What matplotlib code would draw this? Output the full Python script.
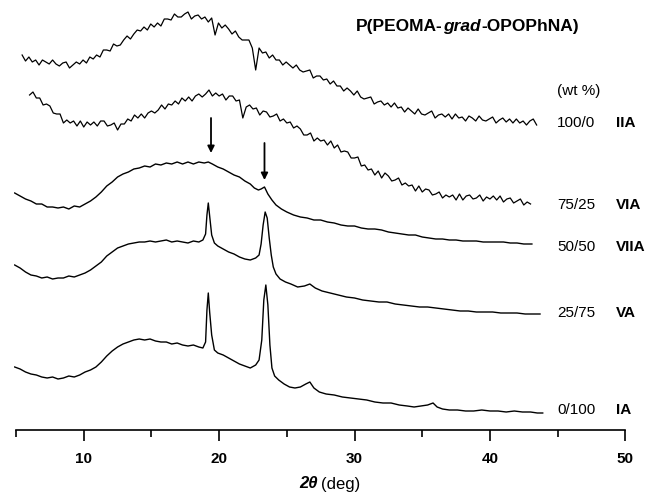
import numpy as np
import matplotlib.pyplot as plt

plt.rcParams['font.family'] = ['Liberation Sans', 'DejaVu Sans']

# XRD patterns, intensity in arbitrary units (curves already offset)
# 100/0 IIA - sampled every 0.25 deg from 5.45 to 43.45
iia_start, iia_end = 5.45, 43.45
iia_y = [445, 439, 443, 438, 440, 435, 440, 438, 436, 440, 436, 434, 437, 438, 432, 435,
         438, 436, 440, 437, 443, 441, 445, 443, 450, 450, 449, 456, 454, 455, 460, 464,
         461, 466, 470, 469, 473, 470, 476, 473, 477, 474, 481, 481, 480, 486, 483, 483,
         486, 488, 481, 484, 485, 481, 483, 478, 482, 465, 477, 472, 475, 471, 466, 469,
         463, 460, 460, 460, 452, 430, 452, 447, 448, 442, 445, 440, 440, 435, 438, 435,
         432, 435, 430, 428, 429, 430, 422, 424, 424, 420, 421, 416, 419, 414, 414, 409,
         412, 409, 405, 409, 403, 401, 402, 403, 396, 398, 399, 395, 397, 393, 397, 392,
         393, 388, 392, 389, 386, 391, 386, 385, 387, 389, 382, 385, 386, 383, 386, 381,
         386, 382, 383, 379, 384, 382, 379, 384, 380, 379, 381, 383, 377, 380, 382, 378,
         381, 377, 381, 377, 379, 375, 379, 381, 375]

# 75/25 VIA - sampled every 0.25 deg from 6.0 to 43.0
via_start, via_end = 6.0, 43.0
via_y = [405, 408, 402, 402, 395, 396, 394, 387, 386, 386, 377, 380, 377, 379, 374, 379,
         373, 378, 375, 378, 374, 379, 379, 374, 375, 377, 370, 376, 376, 381, 379, 385,
         382, 386, 382, 387, 389, 387, 390, 395, 391, 396, 395, 399, 396, 402, 399, 403,
         399, 404, 406, 403, 406, 410, 404, 407, 404, 406, 400, 404, 404, 399, 400, 382,
         393, 395, 391, 392, 385, 389, 388, 383, 384, 386, 379, 381, 377, 378, 372, 374,
         371, 365, 365, 367, 359, 362, 359, 360, 355, 359, 352, 355, 348, 349, 348, 342,
         342, 343, 334, 335, 330, 331, 325, 329, 322, 327, 324, 319, 320, 322, 315, 317,
         314, 315, 309, 314, 308, 311, 310, 305, 306, 308, 302, 305, 303, 305, 300, 306,
         300, 304, 305, 301, 302, 305, 299, 303, 301, 304, 300, 304, 298, 301, 302, 297,
         299, 301, 295, 298, 296]

# 50/50 VIIA
viia_x = [4.9, 5.3, 5.7, 6.1, 6.5, 6.9, 7.3, 7.7, 8.1, 8.5, 8.9, 9.3, 9.7, 10.1, 10.5,
          10.9, 11.3, 11.7, 12.1, 12.5, 12.9, 13.3, 13.7, 14.1, 14.5, 14.9, 15.3, 15.7,
          16.1, 16.5, 16.9, 17.3, 17.7, 18.1, 18.5, 18.9, 19.2, 19.5, 19.9, 20.3, 20.7,
          21.1, 21.5, 21.9, 22.3, 22.6, 22.9, 23.1, 23.35, 23.6, 23.9, 24.2, 24.6, 25.0,
          25.5, 26.0, 26.5, 27.0, 27.5, 28.0, 28.5, 29.0, 29.5, 30.0, 30.5, 31.0, 31.5,
          32.0, 32.5, 33.0, 33.5, 34.0, 34.5, 35.0, 35.5, 36.0, 36.5, 37.0, 37.5, 38.0,
          38.5, 39.0, 39.5, 40.0, 40.5, 41.0, 41.5, 42.0, 42.5, 43.1]
viia_y = [307, 304, 301, 299, 296, 296, 293, 293, 292, 293, 291, 294, 293, 296, 299, 303,
          308, 314, 318, 323, 326, 328, 331, 332, 334, 333, 336, 335, 337, 336, 338, 336,
          338, 336, 338, 337, 338, 336, 333, 331, 328, 325, 323, 319, 316, 312, 310, 311,
          313, 306, 300, 295, 291, 288, 285, 283, 282, 280, 280, 278, 277, 275, 274, 274,
          272, 271, 271, 270, 268, 267, 266, 265, 265, 263, 262, 261, 261, 260, 260, 259,
          259, 259, 258, 258, 258, 258, 257, 257, 256, 256]

# 25/75 VA
va_x = [4.9, 5.3, 5.7, 6.1, 6.5, 6.9, 7.3, 7.7, 8.1, 8.5, 8.9, 9.3, 9.7, 10.1, 10.5,
        10.9, 11.3, 11.7, 12.1, 12.5, 12.9, 13.3, 13.7, 14.1, 14.5, 14.9, 15.3, 15.7,
        16.1, 16.5, 16.9, 17.3, 17.7, 18.1, 18.5, 18.8, 19.0, 19.1, 19.2, 19.3, 19.45,
        19.65, 19.9, 20.3, 20.7, 21.1, 21.5, 21.9, 22.3, 22.7, 22.95, 23.1, 23.25, 23.4,
        23.55, 23.7, 23.85, 24.0, 24.2, 24.5, 24.9, 25.3, 25.8, 26.3, 26.7, 27.1, 27.6,
        28.2, 28.8, 29.4, 30.0, 30.6, 31.2, 31.8, 32.4, 33.0, 33.6, 34.2, 34.8, 35.4,
        36.0, 36.6, 37.2, 37.8, 38.4, 39.0, 39.6, 40.2, 40.8, 41.4, 42.0, 42.6, 43.2, 43.7]
va_y = [235, 232, 228, 225, 224, 222, 223, 221, 222, 222, 224, 223, 225, 227, 230, 234,
        238, 244, 248, 252, 254, 256, 257, 258, 258, 259, 258, 259, 260, 258, 259, 258,
        257, 259, 258, 260, 266, 285, 297, 284, 265, 257, 254, 251, 248, 246, 243, 241,
        240, 242, 245, 256, 275, 288, 282, 262, 245, 233, 226, 221, 218, 216, 213, 214,
        216, 212, 209, 207, 205, 203, 202, 200, 199, 198, 198, 196, 195, 194, 193, 193,
        192, 191, 190, 189, 189, 188, 188, 188, 187, 187, 187, 186, 186, 186]

# 0/100 IA
ia_x = [4.9, 5.3, 5.7, 6.1, 6.5, 6.9, 7.3, 7.7, 8.1, 8.5, 8.9, 9.3, 9.7, 10.1, 10.5,
        10.9, 11.3, 11.7, 12.1, 12.5, 12.9, 13.3, 13.7, 14.1, 14.5, 14.9, 15.3, 15.7,
        16.1, 16.5, 16.9, 17.3, 17.7, 18.1, 18.5, 18.8, 19.0, 19.1, 19.2, 19.3, 19.45,
        19.65, 19.9, 20.3, 20.7, 21.1, 21.5, 21.9, 22.3, 22.7, 22.95, 23.15, 23.3, 23.45,
        23.6, 23.75, 23.9, 24.1, 24.4, 24.8, 25.2, 25.6, 26.0, 26.4, 26.7, 27.0, 27.4,
        27.9, 28.5, 29.1, 29.7, 30.3, 30.9, 31.5, 32.1, 32.7, 33.3, 33.9, 34.4, 34.9,
        35.4, 35.8, 36.1, 36.5, 37.0, 37.6, 38.2, 38.8, 39.4, 40.0, 40.6, 41.2, 41.8,
        42.4, 43.0, 43.5, 43.9]
ia_y = [133, 131, 128, 126, 125, 123, 122, 123, 121, 122, 124, 123, 125, 128, 130, 133,
        138, 144, 149, 153, 156, 158, 160, 161, 160, 161, 159, 158, 158, 156, 157, 155,
        154, 155, 153, 152, 158, 190, 207, 188, 165, 150, 147, 145, 142, 139, 136, 134,
        132, 135, 140, 160, 200, 215, 195, 155, 132, 124, 120, 116, 113, 112, 113, 116,
        118, 112, 108, 106, 105, 103, 102, 101, 100, 98, 97, 97, 95, 94, 93, 94,
        95, 97, 93, 91, 90, 90, 89, 89, 90, 89, 89, 88, 89, 88, 88, 87, 87]

ratios = ['100/0', '75/25', '50/50', '25/75', '0/100']
names = ['IIA', 'VIA', 'VIIA', 'VA', 'IA']
label_y = [377, 295, 253, 187, 90]

# arrows marking the crystalline peaks in VIA
arrow_x = [19.4, 23.35]
arrow_top = [382, 357]
arrow_tip = [347, 320]

fig = plt.figure(figsize=(6.54, 4.95), dpi=100)
ax = fig.add_axes([14 / 654, 1 - 430 / 495, (626 - 14) / 654, 430 / 495])
ax.set_xlim(4.85, 50.05)
ax.set_ylim(70, 500)

iia_x = np.linspace(iia_start, iia_end, len(iia_y))
via_x = np.linspace(via_start, via_end, len(via_y))

ax.plot(iia_x, iia_y, color='k', lw=0.9)
ax.plot(via_x, via_y, color='k', lw=0.9)
ax.plot(viia_x, viia_y, color='k', lw=1.0)
ax.plot(va_x, va_y, color='k', lw=1.0)
ax.plot(ia_x, ia_y, color='k', lw=1.0)

for xa, y0, y1 in zip(arrow_x, arrow_top, arrow_tip):
    ax.annotate('', xy=(xa, y1), xytext=(xa, y0),
                arrowprops=dict(arrowstyle='-|>', color='k', lw=1.3,
                                mutation_scale=10, shrinkA=0, shrinkB=0))

for r, n, yl in zip(ratios, names, label_y):
    ax.text(44.95, yl, r, fontsize=11, va='center', ha='left')
    ax.text(49.3, yl, n, fontsize=11, fontweight='bold', va='center', ha='left')
ax.text(44.95, 409, '(wt %)', fontsize=11, va='center', ha='left')

# title with italic "grad" in the middle, pieces chained to each other
t1 = ax.text(30.1, 473, 'P(PEOMA-', fontsize=12.5, fontweight='bold', va='center', ha='left')
t2 = ax.annotate('grad', xy=(1, 0.5), xycoords=t1, xytext=(0.3, 0),
                 textcoords='offset points', fontsize=12.5, fontweight='bold',
                 fontstyle='italic', va='center', ha='left')
ax.annotate('-OPOPhNA)', xy=(1, 0.5), xycoords=t2, xytext=(0.4, 0),
            textcoords='offset points', fontsize=12.5, fontweight='bold',
            va='center', ha='left')

for s in ['left', 'right', 'top']:
    ax.spines[s].set_visible(False)
ax.spines['bottom'].set_bounds(5, 50)
ax.spines['bottom'].set_linewidth(1.2)
ax.set_yticks([])
ax.set_xticks([10, 20, 30, 40, 50])
ax.set_xticks([5, 15, 25, 35, 45], minor=True)
ax.tick_params(axis='x', which='major', length=8, width=1.2, direction='out',
               labelsize=11, pad=8)
ax.tick_params(axis='x', which='minor', length=5, width=1.2, direction='out')
for lab in ax.get_xticklabels():
    lab.set_fontweight('bold')

fig.text(318 / 654, 1 - 484 / 495, '2θ', fontsize=12, fontweight='bold',
         fontstyle='italic', ha='right', va='center')
fig.text(321 / 654, 1 - 484 / 495, '(deg)', fontsize=12, ha='left', va='center')

fig.savefig('out.png', dpi=100)
